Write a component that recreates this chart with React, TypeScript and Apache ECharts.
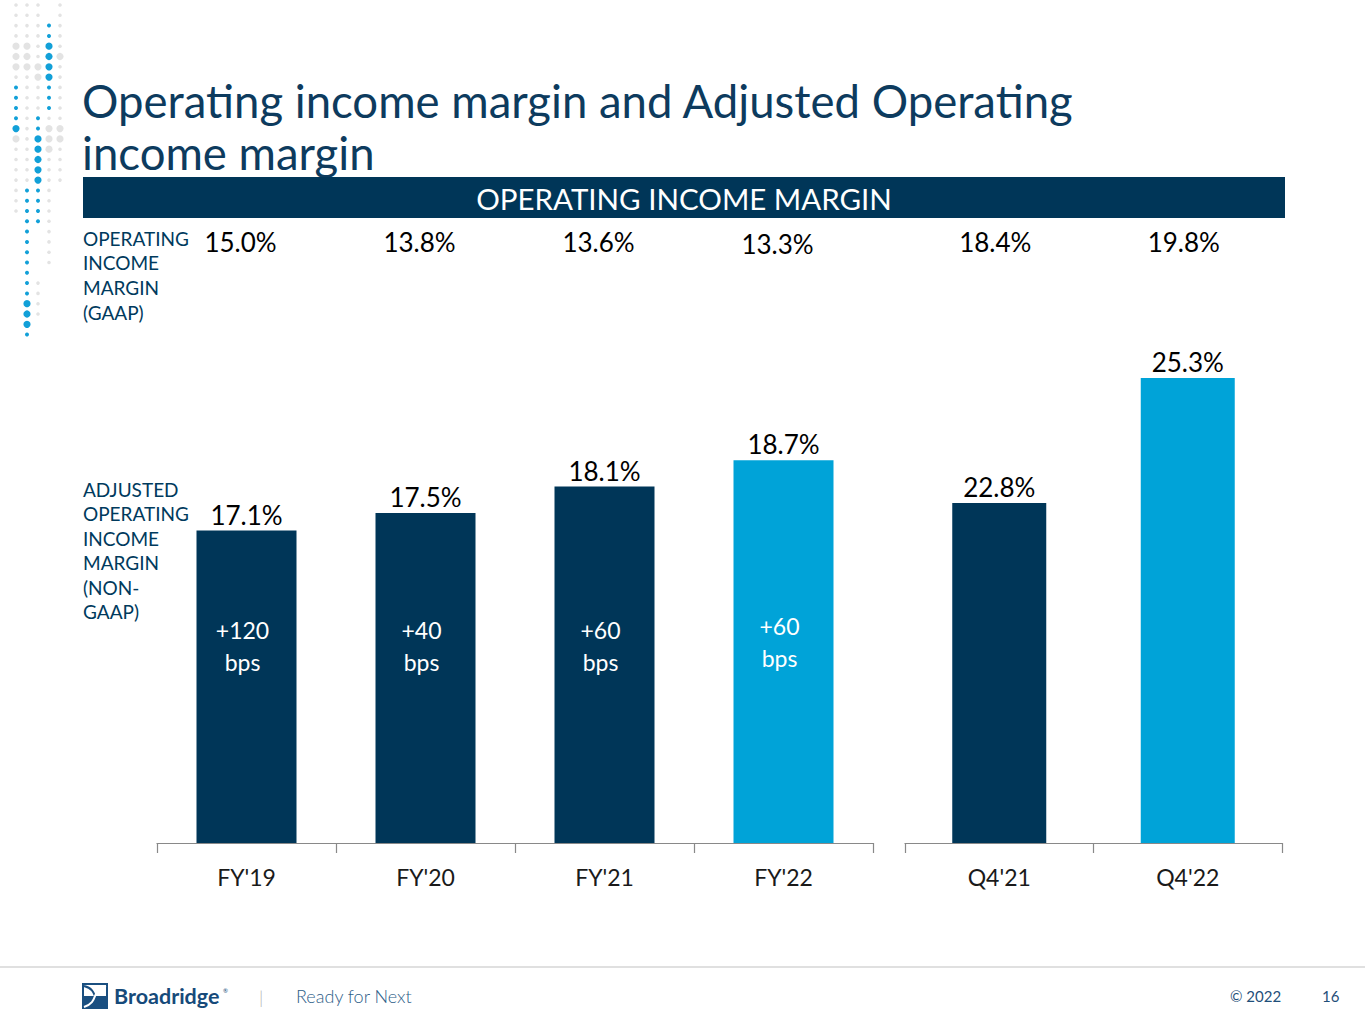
import React, { useEffect, useRef } from "react";
import * as echarts from "echarts";

const fyCategories = ["FY'19", "FY'20", "FY'21", "FY'22"];
const fyAdjusted = [17.1, 17.5, 18.1, 18.7];
const fyGaap = ["15.0%", "13.8%", "13.6%", "13.3%"];
const fyBps = ["+120", "+40", "+60", "+60"];
const qCategories = ["Q4'21", "Q4'22"];
const qAdjusted = [22.8, 25.3];
const qGaap = ["18.4%", "19.8%"];

const NAVY = "#003658";
const LIGHT = "#00A3D8";
const TITLE = "#0D3B5E";
const FONT = "Lato, 'Open Sans', sans-serif";

// decorative dot pattern (columns x, rows step)
const dotCols = [16, 27, 38, 49, 60];
const dotRows = [
  "ggg.g", "ggg.g", "gggbg", "gggbg", "GGgBg", "GGgBG", "GGGBg", "ggGBg",
  "bggbg", "bggbg", "bggbg", "bgbgg", "BgbGG", "GgBGG", "ggBGg", "ggBgg",
  "ggBgg", "ggBgg", "gbbg.", "gbbg.", "gbbg.", ".bbg.", ".b.g.", ".b.g.",
  ".b.g.", ".b.g.", ".b...", ".bg..", ".bg..", ".Bg..", ".Bg..", ".B...", ".b...",
];

export default function App() {
  const ref = useRef<HTMLDivElement>(null);
  useEffect(() => {
    document.body.style.margin = "0";
    const chart = echarts.init(ref.current!, null, { renderer: "svg" });
    const barLabel = {
      show: true,
      position: "top",
      distance: 3,
      fontSize: 26,
      color: "#000",
      fontFamily: FONT,
      formatter: (p: any) => p.value.toFixed(1) + "%",
    };
    const xAxisCommon = {
      type: "category",
      axisLine: { lineStyle: { color: "#898989", width: 1.2 } },
      axisTick: { show: true, length: 10, lineStyle: { color: "#898989", width: 1.2 } },
      axisLabel: { fontSize: 23, color: "#1a1a1a", fontFamily: FONT, margin: 22 },
    };
    chart.setOption({
      animation: false,
      textStyle: { fontFamily: FONT },
      grid: [
        { left: 157, width: 716, top: 403, height: 440 },
        { left: 905, width: 377, top: 343, height: 500 },
      ],
      xAxis: [
        { ...xAxisCommon, gridIndex: 0, data: fyCategories },
        { ...xAxisCommon, gridIndex: 1, data: qCategories },
      ],
      yAxis: [
        { type: "value", gridIndex: 0, min: 10, max: 20, show: false },
        { type: "value", gridIndex: 1, min: 16, max: 26, show: false },
      ],
      series: [
        {
          type: "bar",
          xAxisIndex: 0,
          yAxisIndex: 0,
          barWidth: 100,
          data: fyAdjusted.map((v, i) => ({
            value: v,
            itemStyle: { color: i === fyAdjusted.length - 1 ? LIGHT : NAVY },
          })),
          label: barLabel,
        },
        {
          type: "bar",
          xAxisIndex: 1,
          yAxisIndex: 1,
          barWidth: 94,
          data: qAdjusted.map((v, i) => ({
            value: v,
            itemStyle: { color: i === qAdjusted.length - 1 ? LIGHT : NAVY },
          })),
          label: barLabel,
        },
      ],
    });

    const g: any[] = [];
    // dots
    dotRows.forEach((row, r) => {
      const y = 5 + r * 10.3;
      row.split("").forEach((c, ci) => {
        if (c === ".") return;
        const blue = c === "b" || c === "B";
        const big = c === "B" || c === "G";
        g.push({
          type: "circle",
          shape: { cx: dotCols[ci], cy: y, r: big ? 3.6 : blue ? 2 : 1.8 },
          style: { fill: blue ? "#12a0d8" : "#e3e3e3" },
          silent: true,
        });
      });
    });
    // title
    ["Operating income margin and Adjusted Operating", "income margin"].forEach((t, i) => {
      g.push({
        type: "text",
        x: 82,
        y: 100 + i * 52,
        style: {
          text: t,
          fontSize: 45.5,
          fill: TITLE,
          fontFamily: FONT,
          verticalAlign: "middle",
        },
      });
    });
    // band
    g.push({ type: "rect", shape: { x: 83, y: 177, width: 1202, height: 41 }, style: { fill: NAVY } });
    g.push({
      type: "text",
      x: 684,
      y: 198,
      style: {
        text: "OPERATING INCOME MARGIN",
        fontSize: 29.5,
        fill: "#fff",
        fontFamily: FONT,
        align: "center",
        verticalAlign: "middle",
      },
    });
    // row labels
    g.push({
      type: "text",
      x: 83,
      y: 226,
      style: {
        text: "OPERATING\nINCOME\nMARGIN\n(GAAP)",
        fontSize: 19,
        lineHeight: 24.6,
        fill: "#003a5d",
        fontFamily: FONT,
        verticalAlign: "top",
      },
    });
    g.push({
      type: "text",
      x: 83,
      y: 477,
      style: {
        text: "ADJUSTED\nOPERATING\nINCOME\nMARGIN\n(NON-\nGAAP)",
        fontSize: 19,
        lineHeight: 24.5,
        fill: "#003a5d",
        fontFamily: FONT,
        verticalAlign: "top",
      },
    });
    // GAAP values and bps labels
    fyCategories.forEach((c, i) => {
      const x = chart.convertToPixel({ xAxisIndex: 0 }, c) as number;
      g.push({
        type: "text",
        x: x - 6,
        y: i === 3 ? 244 : 242,
        style: { text: fyGaap[i], fontSize: 26, fill: "#000", fontFamily: FONT, align: "center", verticalAlign: "middle" },
      });
      const last = i === fyCategories.length - 1;
      g.push({
        type: "text",
        x: x - 4,
        y: last ? 642 : 646,
        z: 100,
        style: {
          text: fyBps[i] + "\nbps",
          fontSize: 23,
          lineHeight: 32,
          fill: "#fff",
          fontFamily: FONT,
          align: "center",
          verticalAlign: "middle",
        },
      });
    });
    qCategories.forEach((c, i) => {
      const x = chart.convertToPixel({ xAxisIndex: 1 }, c) as number;
      g.push({
        type: "text",
        x: x - 4,
        y: 242,
        style: { text: qGaap[i], fontSize: 26, fill: "#000", fontFamily: FONT, align: "center", verticalAlign: "middle" },
      });
    });
    // footer
    g.push({ type: "line", shape: { x1: 0, y1: 967, x2: 1365, y2: 967 }, style: { stroke: "#d6d6d6", lineWidth: 1.5 } });
    g.push({ type: "rect", shape: { x: 82, y: 983, width: 26, height: 26 }, style: { fill: "#1a4f80" } });
    g.push({ type: "rect", shape: { x: 84, y: 985, width: 22, height: 11 }, style: { fill: "#fff" } });
    g.push({
      type: "bezierCurve",
      shape: { x1: 84, y1: 986, x2: 106, y2: 1007, cpx1: 100, cpy1: 990, cpx2: 90, cpy2: 1002 },
      style: { stroke: "#1a4f80", lineWidth: 2, fill: null },
    });
    g.push({
      type: "bezierCurve",
      shape: { x1: 106, y1: 986, x2: 84, y2: 1007, cpx1: 90, cpy1: 990, cpx2: 100, cpy2: 1002 },
      style: { stroke: "#fff", lineWidth: 2, fill: null },
    });
    g.push({
      type: "text",
      x: 114,
      y: 996,
      style: { text: "Broadridge", fontSize: 21.5, fontWeight: "bold", fill: "#164a7a", fontFamily: FONT, verticalAlign: "middle" },
    });
    g.push({
      type: "text",
      x: 223,
      y: 990,
      style: { text: "®", fontSize: 6, fill: "#164a7a", fontFamily: FONT, verticalAlign: "middle" },
    });
    g.push({
      type: "text",
      x: 259,
      y: 997,
      style: { text: "|", fontSize: 18, fill: "#b0b0b0", fontFamily: FONT, fontWeight: 300, verticalAlign: "middle" },
    });
    g.push({
      type: "text",
      x: 296,
      y: 996,
      style: { text: "Ready for Next", fontSize: 18, fill: "#2d5e88", fontFamily: FONT, fontWeight: 300, verticalAlign: "middle" },
    });
    g.push({
      type: "text",
      x: 1230,
      y: 996,
      style: { text: "© 2022", fontSize: 15, fill: "#1f4f7a", fontFamily: FONT, verticalAlign: "middle" },
    });
    g.push({
      type: "text",
      x: 1322,
      y: 996,
      style: { text: "16", fontSize: 15, fill: "#1f4f7a", fontFamily: FONT, verticalAlign: "middle" },
    });
    chart.setOption({ graphic: g });
    return () => chart.dispose();
  }, []);
  return <div ref={ref} style={{ width: 1365, height: 1024 }} />;
}
